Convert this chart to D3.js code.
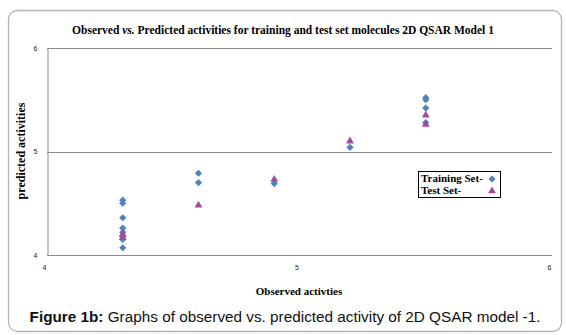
<!DOCTYPE html>
<html>
<head>
<meta charset="utf-8">
<script src="https://cdn.jsdelivr.net/npm/d3@7"></script>
<style>
body { margin: 0; background: #fff; }
</style>
</head>
<body>
<div id="chart"></div>
<script>
// training set: observed / predicted
var trainObs  = [4.3, 4.3, 4.3, 4.3, 4.3, 4.3, 4.3, 4.3, 4.6, 4.6, 4.9, 5.2, 5.5, 5.5, 5.5, 5.5];
var trainPred = [4.53, 4.50, 4.36, 4.26, 4.22, 4.18, 4.15, 4.07, 4.79, 4.70, 4.69, 5.04, 5.52, 5.50, 5.42, 5.28];
// test set
var testObs  = [4.3, 4.3, 4.6, 4.9, 5.2, 5.5, 5.5];
var testPred = [4.20, 4.17, 4.48, 4.73, 5.10, 5.35, 5.26];
var xTicks = [4, 5, 6];
var yTicks = [4, 5, 6];

function make_chart(){

    var width = 566, height = 335;
    var plotL = 47, plotR = 552, plotT = 48, plotB = 255;
    var serif = "'Liberation Serif', 'Times New Roman', serif";

    var svg = d3.select("#chart").append("svg")
        .attr("width", width)
        .attr("height", height);

    // outer frame
    svg.append("rect")
        .attr("x", 8.5).attr("y", 10.5)
        .attr("width", 553).attr("height", 321)
        .attr("rx", 9)
        .attr("fill", "none")
        .attr("stroke", "#b4b4b4")
        .attr("stroke-width", 1.3);

    var x = d3.scaleLinear().domain([4, 6]).range([plotL, plotR]);
    var y = d3.scaleLinear().domain([4, 6]).range([plotB, plotT]);

    // gridlines
    svg.selectAll(".grid")
        .data(yTicks)
        .enter()
        .append("line")
        .attr("class", "grid")
        .attr("x1", plotL).attr("x2", plotR)
        .attr("y1", function(d){ return Math.round(y(d)) + 0.5; })
        .attr("y2", function(d){ return Math.round(y(d)) + 0.5; })
        .attr("stroke", "#8c8c8c")
        .attr("stroke-width", 1);

    // y axis
    var yAxis = d3.axisLeft(y).tickValues(yTicks).tickSize(0).tickPadding(10).tickFormat(d3.format("d"));
    var gy = svg.append("g")
        .attr("transform", "translate(" + (plotL + 0.5) + ",0)")
        .call(yAxis);
    gy.select(".domain").attr("stroke", "#8c8c8c");
    gy.selectAll("text").attr("font-family", "Arial, sans-serif").attr("font-size", 7).attr("fill", "#222");

    // x axis
    var xAxis = d3.axisBottom(x).tickValues(xTicks).tickSize(0).tickPadding(10).tickFormat(d3.format("d"));
    var gx = svg.append("g")
        .attr("transform", "translate(-3," + (plotB + 0.5) + ")")
        .call(xAxis);
    gx.select(".domain").remove();
    gx.selectAll("text").attr("font-family", "Arial, sans-serif").attr("font-size", 7).attr("fill", "#222");

    var diamond = d3.symbol().type(d3.symbolSquare).size(26);
    var triangle = d3.symbol().type(d3.symbolTriangle).size(27);

    svg.selectAll(".train")
        .data(trainObs)
        .enter()
        .append("path")
        .attr("class", "train")
        .attr("d", diamond)
        .attr("transform", function(d, i){ return "translate(" + x(d) + "," + y(trainPred[i]) + ") rotate(45)"; })
        .attr("fill", "#4f81bd");

    svg.selectAll(".test")
        .data(testObs)
        .enter()
        .append("path")
        .attr("class", "test")
        .attr("d", triangle)
        .attr("transform", function(d, i){ return "translate(" + x(d) + "," + y(testPred[i]) + ")"; })
        .attr("fill", "#9b4d9c");

    // titles
    var title = svg.append("text")
        .attr("x", 283).attr("y", 34)
        .attr("text-anchor", "middle")
        .attr("font-family", serif)
        .attr("font-weight", "bold")
        .attr("font-size", 11.5);
    title.append("tspan").text("Observed ");
    title.append("tspan").attr("font-style", "italic").text("vs.");
    title.append("tspan").text(" Predicted activities for training and test set molecules 2D  QSAR Model 1");

    svg.append("text")
        .attr("transform", "translate(25,151) rotate(-90)")
        .attr("text-anchor", "middle")
        .attr("font-family", serif)
        .attr("font-weight", "bold")
        .attr("font-size", 12)
        .text("predicted activities");

    svg.append("text")
        .attr("x", 299).attr("y", 295)
        .attr("text-anchor", "middle")
        .attr("font-family", serif)
        .attr("font-weight", "bold")
        .attr("font-size", 11)
        .text("Observed activties");

    var cap = svg.append("text")
        .attr("x", 285).attr("y", 322)
        .attr("text-anchor", "middle")
        .attr("font-family", "Arial, 'Liberation Sans', sans-serif")
        .attr("font-size", 15.3)
        .attr("fill", "#111");
    cap.append("tspan").attr("font-weight", "bold").text("Figure 1b:");
    cap.append("tspan").text(" Graphs of observed vs. predicted activity of 2D QSAR model -1.");

    // legend
    var lg = svg.append("g").attr("transform", "translate(418,171)");
    lg.append("rect")
        .attr("x", 0.5).attr("y", 0.5)
        .attr("width", 82).attr("height", 26)
        .attr("fill", "#fff")
        .attr("stroke", "#000");
    var legendItems = [["Training Set-", diamond, "#4f81bd", " rotate(45)"], ["Test Set-", triangle, "#9b4d9c", ""]];
    legendItems.forEach(function(d, i){
        lg.append("text")
            .attr("x", 3).attr("y", 11 + i * 12)
            .attr("font-family", serif)
            .attr("font-weight", "bold")
            .attr("font-size", 11)
            .text(d[0]);
        lg.append("path")
            .attr("d", d[1])
            .attr("transform", "translate(74," + (8 + i * 12) + ")" + d[3])
            .attr("fill", d[2]);
    });
}

make_chart();
</script>
</body>
</html>
